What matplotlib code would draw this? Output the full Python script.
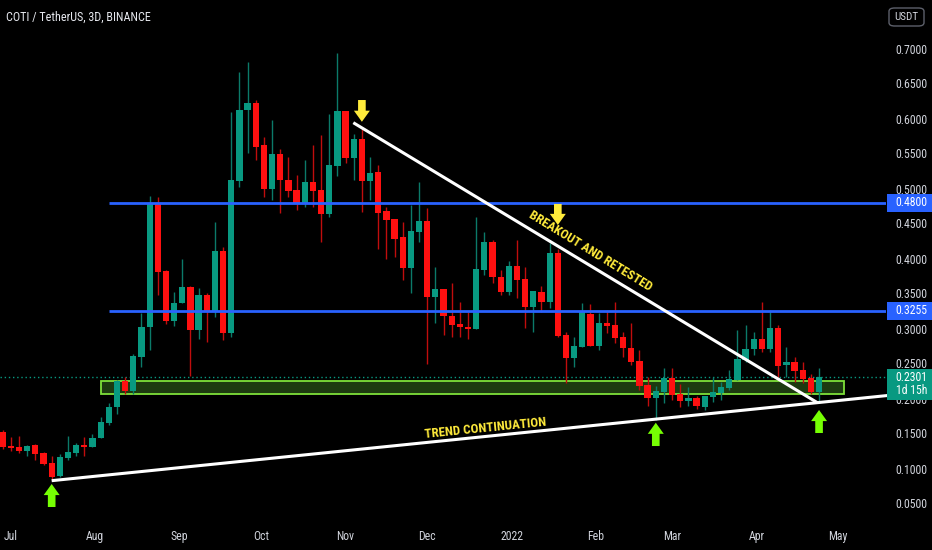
import numpy as np
import matplotlib
matplotlib.use('Agg')
import matplotlib.pyplot as plt
import matplotlib.dates as mdates
import matplotlib.font_manager as fm
from matplotlib.patches import Rectangle, FancyBboxPatch
from matplotlib.transforms import blended_transform_factory

# pick a narrow font if one is installed, otherwise Roboto
installed = {f.name for f in fm.fontManager.ttflist}
narrow = [nm for nm in ['Liberation Sans Narrow', 'Roboto Condensed', 'Open Sans Condensed',
                        'Noto Sans Condensed', 'DejaVu Sans Condensed'] if nm in installed]
if narrow:
    FONT = [narrow[0], 'DejaVu Sans']
    fs_tick, fs_title, fs_big = 8.5, 8.7, 9.4
else:
    FONT = ['Roboto', 'DejaVu Sans']
    fs_tick, fs_title, fs_big = 7.3, 8, 8.3
plt.rcParams['font.family'] = FONT

# 3D candles, COTI/USDT
opens = [0.152, 0.1321, 0.1311, 0.1254, 0.1331, 0.1226, 0.1074, 0.0893, 0.1154, 0.1226,
         0.1336, 0.1311, 0.1431, 0.1654, 0.1874, 0.225, 0.2111, 0.2597, 0.3017, 0.4797,
         0.3821, 0.3107, 0.3364, 0.3597, 0.2979, 0.3479, 0.324, 0.4111, 0.2931, 0.5104,
         0.6121, 0.6226, 0.5617, 0.4993, 0.5493, 0.5121, 0.4979, 0.4789, 0.5097, 0.4979,
         0.4636, 0.5321, 0.6107, 0.544, 0.5707, 0.5111, 0.5231, 0.4683, 0.4564, 0.4303,
         0.386, 0.4383, 0.454, 0.3454, 0.3564, 0.3183, 0.3064, 0.3026, 0.2993, 0.3836,
         0.4231, 0.374, 0.3521, 0.3893, 0.3703, 0.3303, 0.3517, 0.3383, 0.4083, 0.2907,
         0.2583, 0.274, 0.3207, 0.2754, 0.3083, 0.305, 0.2874, 0.2717, 0.254, 0.2193,
         0.2003, 0.2089, 0.2297, 0.2064, 0.1969, 0.2011, 0.1883, 0.2017, 0.2074, 0.2146,
         0.2264, 0.255, 0.2703, 0.2854, 0.2707, 0.3011, 0.2483, 0.2526, 0.2407, 0.2297,
         0.2093]
closes = [0.1314, 0.1293, 0.125, 0.1321, 0.1207, 0.1064, 0.0883, 0.116, 0.124, 0.1336,
          0.1307, 0.144, 0.166, 0.1883, 0.225, 0.2107, 0.2611, 0.3026, 0.4797, 0.3811,
          0.3107, 0.336, 0.3597, 0.2979, 0.3479, 0.324, 0.4111, 0.2931, 0.5119, 0.6121,
          0.6226, 0.5597, 0.4993, 0.5493, 0.5121, 0.4969, 0.4797, 0.5097, 0.4969, 0.4636,
          0.5336, 0.6107, 0.5431, 0.5707, 0.5111, 0.5217, 0.4654, 0.455, 0.4283, 0.386,
          0.4397, 0.454, 0.3454, 0.3564, 0.3179, 0.305, 0.3017, 0.2989, 0.3846, 0.4231,
          0.374, 0.3521, 0.3893, 0.3693, 0.3311, 0.3536, 0.3383, 0.4083, 0.2893, 0.2583,
          0.2754, 0.3231, 0.2754, 0.3083, 0.304, 0.286, 0.2717, 0.2526, 0.2179, 0.2003,
          0.2107, 0.2297, 0.205, 0.1964, 0.2003, 0.1893, 0.2036, 0.2089, 0.2169, 0.2274,
          0.2564, 0.2707, 0.2854, 0.2707, 0.3003, 0.2469, 0.2526, 0.2393, 0.2274, 0.2093,
          0.2301]
highs = [0.155, 0.1443, 0.1464, 0.1329, 0.135, 0.1236, 0.1179, 0.1207, 0.1464, 0.136,
         0.1446, 0.1488, 0.1731, 0.1931, 0.2264, 0.2311, 0.2631, 0.3226, 0.4893, 0.4874,
         0.3831, 0.3521, 0.3993, 0.3607, 0.3574, 0.3507, 0.4517, 0.4169, 0.6093, 0.6669,
         0.6811, 0.6264, 0.574, 0.5979, 0.5571, 0.5454, 0.5193, 0.5407, 0.5621, 0.5764,
         0.6064, 0.694, 0.6107, 0.5779, 0.5857, 0.545, 0.5336, 0.474, 0.4564, 0.452,
         0.4764, 0.5097, 0.4717, 0.3874, 0.3564, 0.3646, 0.3383, 0.3236, 0.4597, 0.4383,
         0.4264, 0.3836, 0.3964, 0.4264, 0.3874, 0.3536, 0.3607, 0.4217, 0.4131, 0.2954,
         0.2883, 0.3369, 0.335, 0.3217, 0.3264, 0.3383, 0.2954, 0.3083, 0.2693, 0.2311,
         0.2179, 0.2431, 0.2431, 0.2207, 0.216, 0.2036, 0.2036, 0.2311, 0.224, 0.2407,
         0.2979, 0.305, 0.2954, 0.3383, 0.3264, 0.305, 0.274, 0.2597, 0.2526, 0.235,
         0.2431]
lows = [0.128, 0.1257, 0.1226, 0.1183, 0.1121, 0.105, 0.083, 0.0874, 0.112, 0.1179,
        0.1179, 0.1311, 0.1431, 0.1626, 0.1774, 0.206, 0.2069, 0.2454, 0.2693, 0.3479,
        0.306, 0.304, 0.3364, 0.2321, 0.2843, 0.2811, 0.3164, 0.2836, 0.2879, 0.5026,
        0.5503, 0.5407, 0.4883, 0.4836, 0.4646, 0.4883, 0.4693, 0.474, 0.474, 0.424,
        0.4597, 0.5179, 0.536, 0.5121, 0.4669, 0.4836, 0.4136, 0.4, 0.4021, 0.3693,
        0.3507, 0.424, 0.25, 0.3079, 0.2907, 0.2883, 0.2883, 0.2846, 0.2993, 0.3764,
        0.3646, 0.3479, 0.3479, 0.3431, 0.3003, 0.2954, 0.324, 0.3289, 0.2883, 0.2226,
        0.2446, 0.274, 0.2754, 0.2693, 0.2936, 0.2789, 0.2597, 0.2479, 0.2121, 0.19,
        0.17, 0.1931, 0.1979, 0.1883, 0.1893, 0.1854, 0.1836, 0.1946, 0.1974, 0.2121,
        0.2264, 0.2526, 0.2621, 0.2669, 0.2669, 0.2311, 0.2311, 0.224, 0.2226, 0.2069,
        0.1954]

first_bar = np.datetime64('2021-06-28')
month_ticks = ['2021-07-01', '2021-08-01', '2021-09-01', '2021-10-01', '2021-11-01', '2021-12-01',
               '2022-01-01', '2022-02-01', '2022-03-01', '2022-04-01', '2022-05-01']
month_labels = ['Jul', 'Aug', 'Sep', 'Oct', 'Nov', 'Dec', '2022', 'Feb', 'Mar', 'Apr', 'May']
price_ticks = [0.05, 0.10, 0.15, 0.20, 0.25, 0.30, 0.35, 0.40, 0.45, 0.50, 0.55, 0.60, 0.65, 0.70]

levels = [0.48, 0.3255]          # blue horizontal levels
zone = [0.2058, 0.2254]          # support zone
last_price = 0.2301
up_line = [(6, 0.0826), (109, 0.2050)]       # (bar, price)
down_line = [(42.95, 0.594), (99.8, 0.194)]
yellow_arrows = [(44, 0.6264, 0.5953), (68, 0.4779, 0.4479)]   # bar, tail, tip
green_arrows = [(6, 0.045, 0.0779), (80, 0.1321, 0.1654), (100, 0.1507, 0.1836)]

UP = '#089981'
DN = '#ff1010'
TXT = '#d1d4dc'

n = len(opens)
x0 = mdates.date2num(first_bar)
xs = x0 + 3 * np.arange(n)


def bx(i):
    return x0 + 3 * i


fig = plt.figure(figsize=(9.32, 5.5), dpi=100, facecolor='black')
ax = fig.add_axes([0, 28 / 550, 886 / 932, 522 / 550], facecolor='black')

# candles
for i in range(n):
    o, c, h, l = opens[i], closes[i], highs[i], lows[i]
    col = UP if c >= o else DN
    wcol = '#0b7a69' if c >= o else '#c00d0d'
    ax.vlines(xs[i], l, h, color=wcol, lw=1, zorder=3)
    ax.bar(xs[i], max(abs(c - o), 0.0015), bottom=min(o, c), width=2.3,
           color=col, linewidth=0, zorder=4)

# zone
ax.add_patch(Rectangle((bx(12), zone[0]), bx(103) - bx(12), zone[1] - zone[0],
                       facecolor='#1d3a10', edgecolor='#7ee03a', lw=1.3, zorder=2))

xmin, xmax = x0 - 0.99, x0 + 324.6
ax.hlines(levels, bx(13), xmax, color='#2962ff', lw=2, zorder=5)
ax.axhline(last_price, color=UP, lw=1, ls=(0, (1, 2)), zorder=2)

ax.plot([bx(up_line[0][0]), bx(up_line[1][0])], [up_line[0][1], up_line[1][1]],
        color='white', lw=2.2, zorder=6, clip_on=False, solid_capstyle='butt')
ax.plot([bx(down_line[0][0]), bx(down_line[1][0])], [down_line[0][1], down_line[1][1]],
        color='white', lw=2.2, zorder=6, solid_capstyle='butt')

arrow_style = 'simple,head_length=0.8,head_width=1.15,tail_width=0.55'
for b, tail, tip in yellow_arrows:
    ax.annotate('', xy=(bx(b), tip), xytext=(bx(b), tail),
                arrowprops=dict(arrowstyle=arrow_style, color='#ffeb3b', lw=0,
                                mutation_scale=10, shrinkA=0, shrinkB=0), zorder=7)
for b, tail, tip in green_arrows:
    ax.annotate('', xy=(bx(b), tip), xytext=(bx(b), tail), annotation_clip=False,
                arrowprops=dict(arrowstyle=arrow_style, color='#76ff03', lw=0,
                                mutation_scale=10, shrinkA=0, shrinkB=0), zorder=7)

ax.text(bx(72.0), 0.411, 'BREAKOUT AND RETESTED', color='#ffeb3b', fontsize=fs_big,
        fontweight='bold', rotation=-31.5, rotation_mode='anchor', ha='center', va='center', zorder=7)
ax.text(bx(59.08), 0.1575, 'TREND CONTINUATION', color='#ffeb3b', fontsize=fs_big,
        fontweight='bold', rotation=5.8, rotation_mode='anchor', ha='center', va='center', zorder=7)

ax.set_xlim(xmin, xmax)
ax.set_ylim(16.5 / 700, 538.5 / 700)
for s in ax.spines.values():
    s.set_visible(False)

ax.set_xticks(mdates.date2num(np.array(month_ticks, dtype='datetime64[D]')))
ax.set_xticklabels(month_labels)
ax.yaxis.tick_right()
ax.set_yticks(price_ticks)
ax.set_yticklabels([f'{p:.4f}' for p in price_ticks])
ax.tick_params(axis='x', length=0, pad=6, labelsize=fs_tick, labelcolor=TXT)
ax.tick_params(axis='y', length=0, pad=7, labelsize=fs_tick, labelcolor=TXT)

# price tags on the scale
tag_x = 895.5 / 932
trans = blended_transform_factory(fig.transFigure, ax.transData)
for lv in levels:
    ax.add_patch(Rectangle((887 / 932, lv - 0.0129), 45 / 932, 0.0257, transform=trans,
                           facecolor='#2962ff', edgecolor='none', clip_on=False, zorder=10))
    ax.text(tag_x, lv, f'{lv:.4f}', transform=trans, color='white', fontsize=fs_tick,
            va='center', ha='left', zorder=11, clip_on=False)
ax.add_patch(Rectangle((887 / 932, 0.1980), 45 / 932, 0.0441, transform=trans,
                       facecolor=UP, edgecolor='none', clip_on=False, zorder=10))
ax.text(tag_x, last_price, f'{last_price:.4f}', transform=trans, color='white', fontsize=fs_tick,
        va='center', ha='left', zorder=11, clip_on=False)
ax.text(tag_x, 0.2112, '1d 15h', transform=trans, color='white', fontsize=fs_tick,
        va='center', ha='left', zorder=11, clip_on=False)

fig.patches.append(FancyBboxPatch((889 / 932, 1 - 26 / 550), 35 / 932, 18 / 550,
                                  boxstyle='round,pad=0,rounding_size=0.006',
                                  transform=fig.transFigure, facecolor='black',
                                  edgecolor='#5d606b', lw=1))
fig.text(906.5 / 932, 1 - 17 / 550, 'USDT', color=TXT, fontsize=fs_tick - 0.5, ha='center', va='center')
fig.text(6 / 932, 1 - 17 / 550, 'COTI / TetherUS, 3D, BINANCE', color='#e6e8ee', fontsize=fs_title,
         ha='left', va='center')

fig.savefig('out.png', dpi=100, facecolor='black')
